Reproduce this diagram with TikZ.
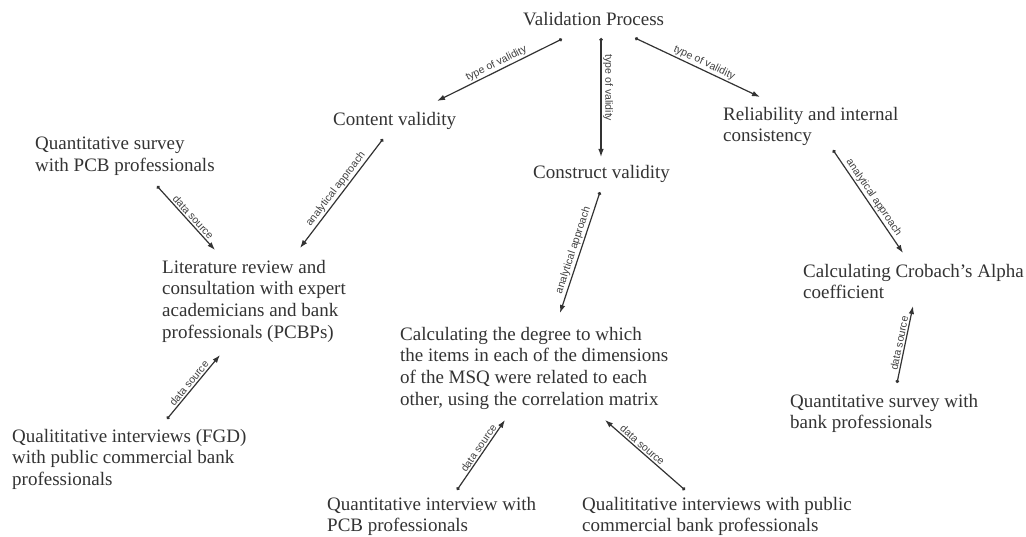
\documentclass[tikz,border=0pt]{standalone}
\usepackage{fontspec}
\setmainfont{Liberation Serif}
\newfontfamily\lblfont{Liberation Sans}
\usetikzlibrary{arrows.meta,calc}
\begin{document}
\begin{tikzpicture}[x=1pt,y=-1pt,
  txt/.style={anchor=north west, inner sep=0pt, align=left, text=black!80, font=\fontsize{19}{21.6}\selectfont},
  conn/.style={draw=black!80, line width=1.2pt, {Circle[length=3.4pt]}-{Latex[length=8pt,width=5.5pt]}},
  lbl/.style={font=\lblfont\fontsize{10.5}{12}\selectfont, text=black!75, sloped, inner sep=1.5pt, above}
]
\useasboundingbox[fill=white] (0,0) rectangle (1026,537);
\node[txt] (vp) at (523,12) {Validation Process};
\node[txt] (cv) at (333,112) {Content validity};
\node[txt] (cs) at (533,165) {Construct validity};
\node[txt] (rel) at (723,107) {Reliability and internal\\consistency};
\node[txt] (qs) at (35,137) {Quantitative survey\\with PCB professionals};
\node[txt] (lit) at (162,260) {Literature review and\\consultation with expert\\academicians and bank\\professionals (PCBPs)};
\node[txt] (calc) at (400,327) {Calculating the degree to which\\the items in each of the dimensions\\of the MSQ were related to each\\other, using the correlation matrix};
\node[txt] (cro) at (803,264) {Calculating Crobach's Alpha\\coefficient};
\node[txt] (qsb) at (790,394) {Quantitative survey with\\bank professionals};
\node[txt] (fgd) at (12,429) {Qualititative interviews (FGD)\\with public commercial bank\\professionals};
\node[txt] (qip) at (327,497) {Quantitative interview with\\PCB professionals};
\node[txt] (qual) at (582,497) {Qualititative interviews with public\\commercial bank professionals};

\draw[conn] ($(vp.north west)+(39,27)$) -- node[lbl,pos=0.5]{type of validity} ($(cv.north west)+(104,-11)$);
\draw[conn] ($(vp.north west)+(78,26)$) -- node[lbl,pos=0.42]{type of validity} ($(cs.north west)+(68,-8)$);
\draw[conn] ($(vp.north west)+(112,26)$) -- node[lbl,pos=0.53]{type of validity} ($(rel.north west)+(37,-10)$);
\draw[conn] ($(cv.north west)+(50,27)$) -- node[lbl,pos=0.5]{analytical approach} ($(lit.north west)+(138,-12)$);
\draw[conn] ($(qs.north west)+(122,49)$) -- node[lbl,pos=0.55]{data source} ($(lit.north west)+(53,-10)$);
\draw[conn] ($(fgd.north west)+(155,-10)$) -- node[lbl,pos=0.5]{data source} ($(lit.north west)+(58,95)$);
\draw[conn] ($(cs.north west)+(67,27)$) -- node[lbl,pos=0.5]{analytical approach} ($(calc.north west)+(160,-14)$);
\draw[conn] ($(qip.north west)+(130,-7)$) -- node[lbl,pos=0.55]{data source} ($(calc.north west)+(105,93)$);
\draw[conn] ($(qual.north west)+(103,-7)$) -- node[lbl,pos=0.58]{data source} ($(calc.north west)+(205,93)$);
\draw[conn] ($(rel.north west)+(110,43)$) -- node[lbl,pos=0.5]{analytical approach} ($(cro.north west)+(100,-11)$);
\draw[conn] ($(qsb.north west)+(107,-11)$) -- node[lbl,pos=0.5]{data source} ($(cro.north west)+(110,42)$);
\end{tikzpicture}
\end{document}
